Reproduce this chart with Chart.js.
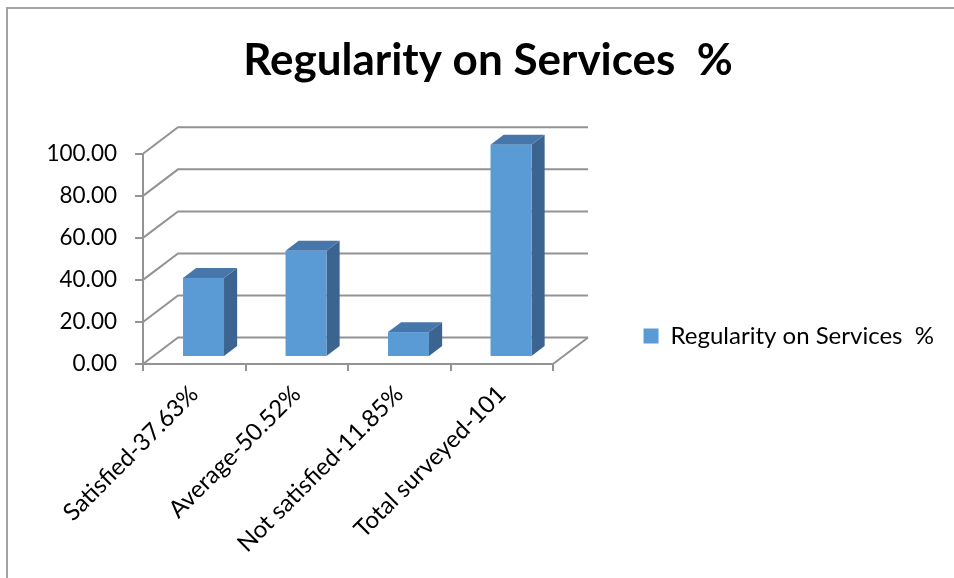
<!DOCTYPE html>
<html>
<head>
<meta charset="utf-8">
<script src="https://cdn.jsdelivr.net/npm/chart.js@4.4.1/dist/chart.umd.min.js"></script>
<style>
  html, body { margin: 0; padding: 0; background: #ffffff; }
  #wrap { width: 954px; height: 578px; }
</style>
</head>
<body>
<div id="wrap"><canvas id="c" width="954" height="578"></canvas></div>
<script>
// ---- data ----
const categories = ['Satisfied-37.63%', 'Average-50.52%', 'Not satisfied-11.85%', 'Total surveyed-101'];
const values = [37.63, 50.52, 11.85, 101];
const yTickValues = [0, 20, 40, 60, 80, 100];
const seriesName = 'Regularity on Services  %';
const titleText = 'Regularity on Services  %';

// ---- layout / style constants ----
const W = 954, H = 578;
const PAD_LEFT = 32, PAD_RIGHT = 10;
const PLOT_LEFT = 143, PLOT_RIGHT = 553, PLOT_BOTTOM = 364;
const DEPTH_X = 35, DEPTH_Y = -26.5;
const BAR_F0 = 0.265, BAR_F1 = 0.64;
const LEG_SIZE = 24, LEG_PAD = 16, LEG_BOX = 15, LEG_EXTRA = 10;
const GRID_COLOR = '#939393';
const FRONT = '#5B9BD5', TOP = '#4776ab', SIDE = '#3b6590';

Chart.defaults.font.family = 'Lato';
Chart.defaults.color = '#000000';

const bar3d = {
  id: 'bar3d',
  beforeDraw(chart) {
    const ctx = chart.ctx;
    ctx.save();
    ctx.fillStyle = '#ffffff';
    ctx.fillRect(0, 0, W, H);
    ctx.fillStyle = '#a3a3a3';
    ctx.fillRect(6, 7, 2, H - 7);
    ctx.fillRect(6, 7, W - 6, 2);
    ctx.restore();
  },
  beforeDatasetsDraw(chart) {
    const ctx = chart.ctx;
    const ys = chart.scales.y;
    const a = chart.chartArea;
    ctx.save();
    // walls + gridlines
    ctx.strokeStyle = GRID_COLOR;
    ctx.lineWidth = 2;
    ys.ticks.forEach(t => {
      const py = ys.getPixelForValue(t.value);
      ctx.beginPath();
      ctx.moveTo(a.left, py);
      ctx.lineTo(a.left + DEPTH_X, py + DEPTH_Y);
      ctx.lineTo(a.right + DEPTH_X, py + DEPTH_Y);
      ctx.stroke();
    });
    // floor right edge
    const p0 = ys.getPixelForValue(0);
    ctx.beginPath();
    ctx.moveTo(a.right, p0);
    ctx.lineTo(a.right + DEPTH_X, p0 + DEPTH_Y);
    ctx.stroke();

    // 3D bars from the bar elements
    const meta = chart.getDatasetMeta(0);
    const dd = BAR_F1 - BAR_F0;
    const sdx = dd * DEPTH_X, sdy = dd * DEPTH_Y;
    meta.data.forEach(bar => {
      const p = bar.getProps(['x', 'y', 'base', 'width'], true);
      const x0 = p.x - p.width / 2 + BAR_F0 * DEPTH_X;
      const x1 = p.x + p.width / 2 + BAR_F0 * DEPTH_X;
      const yt = p.y + BAR_F0 * DEPTH_Y;
      const yb = p.base + BAR_F0 * DEPTH_Y;
      ctx.fillStyle = SIDE;
      ctx.beginPath();
      ctx.moveTo(x1, yt);
      ctx.lineTo(x1 + sdx, yt + sdy);
      ctx.lineTo(x1 + sdx, yb + sdy);
      ctx.lineTo(x1, yb);
      ctx.closePath();
      ctx.fill();
      ctx.fillStyle = TOP;
      ctx.beginPath();
      ctx.moveTo(x0, yt);
      ctx.lineTo(x0 + sdx, yt + sdy);
      ctx.lineTo(x1 + sdx, yt + sdy);
      ctx.lineTo(x1, yt);
      ctx.closePath();
      ctx.fill();
      ctx.fillStyle = FRONT;
      ctx.fillRect(x0, yt, x1 - x0, yb - yt);
    });
    ctx.restore();
    return false; // skip flat default bars
  }
};

new Chart(document.getElementById('c'), {
  type: 'bar',
  data: {
    labels: categories,
    datasets: [{
      label: seriesName,
      data: values,
      backgroundColor: FRONT,
      borderWidth: 0,
      barPercentage: 0.4,
      categoryPercentage: 1.0
    }]
  },
  options: {
    responsive: false,
    animation: false,
    devicePixelRatio: 1,
    layout: { padding: { left: PAD_LEFT, right: PAD_RIGHT, top: 0, bottom: 0 } },
    plugins: {
      title: {
        display: true,
        text: titleText,
        color: '#000000',
        font: { family: 'Lato', size: 44, weight: 'bold' },
        padding: { top: 34, bottom: 67 }
      },
      legend: {
        display: true,
        position: 'right',
        align: 'end',
        fullSize: false,
        maxWidth: 600,
        labels: {
          boxWidth: LEG_BOX,
          boxHeight: LEG_BOX,
          padding: LEG_PAD,
          color: '#000000',
          font: { family: 'Lato', size: LEG_SIZE }
        }
      },
      tooltip: { enabled: false }
    },
    scales: {
      x: {
        type: 'category',
        grid: { display: true, drawOnChartArea: false, drawTicks: true, tickLength: 7, color: GRID_COLOR, lineWidth: 2, offset: true },
        border: { display: true, color: GRID_COLOR, width: 2 },
        ticks: { autoSkip: false, minRotation: 45, maxRotation: 45, padding: 9, color: '#000000', font: { family: 'Lato', size: 24 } },
        afterFit(s) { s.height = H - PLOT_BOTTOM; }
      },
      y: {
        type: 'linear',
        position: 'left',
        min: 0,
        max: 100,
        grid: { display: true, drawOnChartArea: false, drawTicks: true, tickLength: 8, color: GRID_COLOR, lineWidth: 2 },
        border: { display: true, color: GRID_COLOR, width: 2 },
        ticks: { padding: 18, color: '#000000', font: { family: 'Lato', size: 22.5 }, callback: v => Number(v).toFixed(2) },
        afterBuildTicks(s) { s.ticks = yTickValues.map(v => ({ value: v })); },
        afterFit(s) { s.width = PLOT_LEFT - PAD_LEFT; }
      },
      y2: {
        type: 'linear',
        position: 'right',
        display: true,
        grid: { display: false, drawTicks: false },
        border: { display: false },
        ticks: { display: false },
        afterFit(s) {
          const ctx = s.ctx;
          ctx.save();
          ctx.font = LEG_SIZE + 'px Lato';
          const tw = ctx.measureText(seriesName).width;
          ctx.restore();
          const legendW = LEG_PAD + LEG_BOX + LEG_SIZE / 2 + tw + LEG_EXTRA;
          s.width = Math.max(0, (W - PAD_RIGHT - legendW) - PLOT_RIGHT);
        }
      }
    }
  },
  plugins: [bar3d]
});
</script>
</body>
</html>
